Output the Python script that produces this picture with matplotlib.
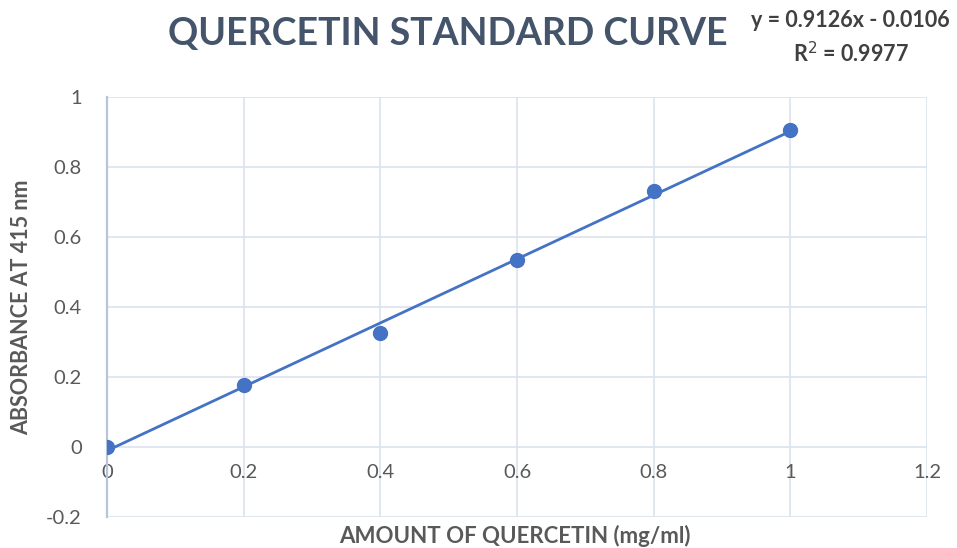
import numpy as np
import matplotlib
matplotlib.use('Agg')
from matplotlib import pyplot as plt

plt.rcParams['font.family'] = ['Lato', 'DejaVu Sans']

# quercetin concentration (mg/ml) vs absorbance at 415 nm
conc = [0, 0.2, 0.4, 0.6, 0.8, 1.0]
absorb = [0, 0.178, 0.325, 0.533, 0.731, 0.906]

# linear trendline from the fitted equation
slope = 0.9126
intercept = -0.0106
r2 = 0.9977

x_ticks = [0, 0.2, 0.4, 0.6, 0.8, 1, 1.2]
x_labels = ['0', '0.2', '0.4', '0.6', '0.8', '1', '1.2']
y_ticks = [-0.2, 0, 0.2, 0.4, 0.6, 0.8, 1]
y_labels = ['-0.2', '0', '0.2', '0.4', '0.6', '0.8', '1']

blue = '#4472c4'
grid_col = '#dce3ee'
text_col = '#595959'

fig = plt.figure(figsize=(9.57, 5.48), dpi=100)
ax = fig.add_axes([0.1118, 0.0566, 0.9687 - 0.1118, 0.823 - 0.0566])

ax.set_xlim(0, 1.2)
ax.set_ylim(-0.2, 1)
ax.set_xticks(x_ticks)
ax.set_xticklabels(x_labels)
ax.set_yticks(y_ticks)
ax.set_yticklabels(y_labels)

ax.grid(True, color=grid_col, lw=1.2)
ax.set_axisbelow(True)
for s in ['top', 'right', 'bottom']:
    ax.spines[s].set_visible(False)
ax.spines['left'].set_color('#b7c5dc')
ax.spines['left'].set_linewidth(1.6)
ax.spines['bottom'].set_position(('data', 0))

ax.tick_params(axis='x', length=0, pad=12, labelsize=14.5, labelcolor=text_col)
ax.tick_params(axis='y', length=0, pad=18, labelsize=14.5, labelcolor=text_col)

xl = np.array([0, 1.0])
ax.plot(xl, slope * xl + intercept, color=blue, lw=2, zorder=3)
ax.plot(conc, absorb, 'o', color=blue, ms=10, zorder=4)

ax.set_ylabel('ABSORBANCE AT 415 nm', fontsize=15.5, fontweight='bold', color=text_col)
ax.yaxis.set_label_coords(-0.091, 0.5)
fig.text(0.538, 0.022, 'AMOUNT OF QUERCETIN (mg/ml)', ha='center', va='center',
         fontsize=16, fontweight='bold', color=text_col)

fig.text(0.468, 0.938, 'QUERCETIN STANDARD CURVE', ha='center', va='center',
         fontsize=27, fontweight='bold', color='#44546a')
fig.text(0.889, 0.962, 'y = %.4fx - %.4f' % (slope, -intercept), ha='center', va='center',
         fontsize=15.5, fontweight='bold', color='#404040')
fig.text(0.889, 0.903, 'R$^2$ = %.4f' % r2, ha='center', va='center',
         fontsize=15.5, fontweight='bold', color='#404040')

fig.savefig('out.png', dpi=100)
